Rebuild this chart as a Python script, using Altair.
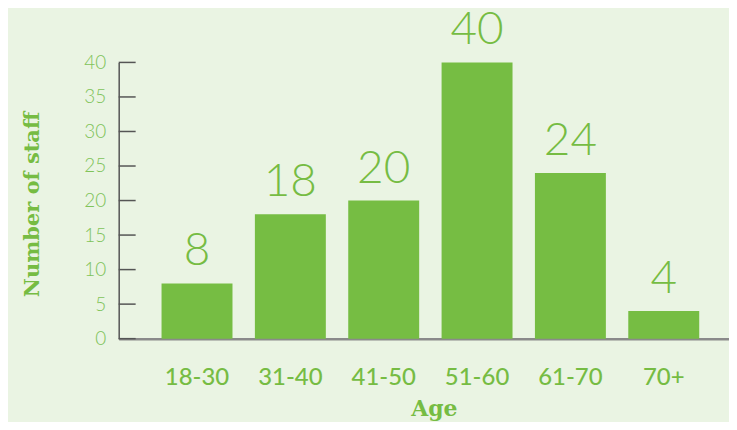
import altair as alt
import pandas as pd

ages = ["18-30", "31-40", "41-50", "51-60", "61-70", "70+"]
staff = [8, 18, 20, 40, 24, 4]
y_ticks = [0, 5, 10, 15, 20, 25, 30, 35, 40]

df = pd.DataFrame({"age": ages, "staff": staff})
ticks_df = pd.DataFrame({"t": y_ticks})

GREEN = "#76bd43"
TEXT = "#76bc43"
LIGHT = "#7fc35a"

x_scale = alt.Scale(paddingInner=0.24, paddingOuter=0.389, align=0.59)
x_axis = alt.Axis(
    title="Age",
    titleFont="DejaVu Serif",
    titleFontWeight="bold",
    titleFontSize=22,
    titleColor=TEXT,
    titleX=316,
    titleY=77,
    titleBaseline="alphabetic",
    labelAngle=0,
    labelFont="Lato",
    labelFontWeight=500,
    labelFontSize=24,
    labelColor=TEXT,
    labelBaseline="alphabetic",
    labelPadding=46,
    ticks=False,
    domainColor="#8a8a8a",
    domainWidth=2.5,
)

y_scale = alt.Scale(domain=[0, 40], nice=False)
y_axis = alt.Axis(
    title="Number of staff",
    titleFont="DejaVu Serif",
    titleFontWeight="bold",
    titleFontSize=21,
    titleColor=TEXT,
    titleX=-80,
    titleY=142,
    titleBaseline="alphabetic",
    values=y_ticks,
    labelOverlap=False,
    labelFont="Lato",
    labelFontWeight=300,
    labelFontSize=19,
    labelColor=LIGHT,
    labelPadding=13,
    ticks=False,
    grid=False,
    domainColor="#555555",
    domainWidth=1.5,
)

bars = alt.Chart(df).mark_bar(color=GREEN).encode(
    x=alt.X("age:N", sort=ages, scale=x_scale, axis=x_axis),
    y=alt.Y("staff:Q", scale=y_scale, axis=y_axis),
)

labels = alt.Chart(df).mark_text(
    font="Lato",
    fontWeight=300,
    fontSize=46,
    color=TEXT,
    baseline="alphabetic",
    dy=-18,
).encode(
    x=alt.X("age:N", sort=ages, scale=x_scale, axis=x_axis),
    y=alt.Y("staff:Q", scale=y_scale, axis=y_axis),
    text=alt.Text("staff:Q"),
)

tick_rules = alt.Chart(ticks_df).mark_rule(color="#555555", strokeWidth=1.5).encode(
    y=alt.Y("t:Q", scale=y_scale, axis=y_axis),
    x=alt.value(0),
    x2=alt.value(17),
)

chart = (
    alt.layer(bars, tick_rules, labels)
    .resolve_axis(y="shared", x="shared")
    .properties(
        width=612,
        height=277,
        background="#eaf4e3",
        padding={"left": 111, "top": 54, "right": 0, "bottom": 83},
        autosize=alt.AutoSizeParams(type="none"),
    )
    .configure_view(stroke=None)
)

chart.save("out.html", embed_options={"renderer": "svg", "actions": False})
